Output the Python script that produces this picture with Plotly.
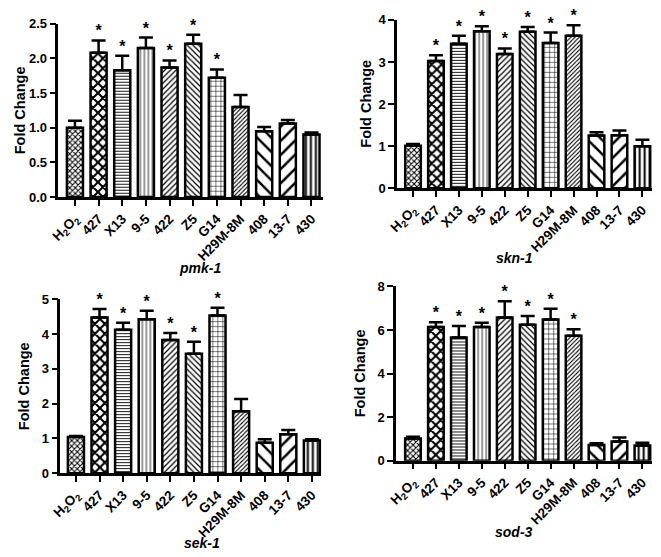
import plotly.graph_objects as go

categories = ["H2O2", "427", "X13", "9-5", "422", "Z5", "G14", "H29M-8M", "408", "13-7", "430"]
tick_labels = ["H<sub>2</sub>O<sub>2</sub>", "427", "X13", "9-5", "422", "Z5", "G14", "H29M-8M", "408", "13-7", "430"]

pmk1_vals = [1.00, 2.08, 1.83, 2.15, 1.87, 2.21, 1.72, 1.30, 0.95, 1.06, 0.90]
pmk1_err = [0.10, 0.18, 0.21, 0.15, 0.10, 0.13, 0.12, 0.17, 0.06, 0.05, 0.03]
pmk1_sig = [0, 1, 1, 1, 1, 1, 1, 0, 0, 0, 0]

skn1_vals = [1.01, 3.02, 3.43, 3.73, 3.19, 3.72, 3.45, 3.62, 1.25, 1.26, 1.00]
skn1_err = [0.04, 0.14, 0.19, 0.12, 0.13, 0.11, 0.25, 0.25, 0.08, 0.11, 0.15]
skn1_sig = [0, 1, 1, 1, 1, 1, 1, 1, 0, 0, 0]

sek1_vals = [1.04, 4.47, 4.12, 4.42, 3.83, 3.43, 4.53, 1.78, 0.88, 1.12, 0.94]
sek1_err = [0.03, 0.25, 0.20, 0.25, 0.20, 0.35, 0.22, 0.35, 0.10, 0.12, 0.04]
sek1_sig = [0, 1, 1, 1, 1, 1, 1, 0, 0, 0, 0]

sod3_vals = [1.02, 6.14, 5.66, 6.14, 6.57, 6.24, 6.48, 5.74, 0.72, 0.88, 0.70]
sod3_err = [0.08, 0.22, 0.52, 0.20, 0.75, 0.40, 0.50, 0.30, 0.08, 0.18, 0.12]
sod3_sig = [0, 1, 1, 1, 1, 1, 1, 1, 0, 0, 0]

genes = ["pmk-1", "skn-1", "sek-1", "sod-3"]

shapes = ["x", "x", "-", "|", "/", "\\", "+", "/", "\\", "/", "|"]
psizes = [4, 7, 3, 4, 4, 4, 5, 3, 10, 10, 5]
psolid = [0.45, 0.5, 0.3, 0.2, 0.3, 0.3, 0.2, 0.35, 0.25, 0.25, 0.4]

W, H = 661, 557
OX, OY = 8, 8  # page body margin offset
# panel geometry in window pixels
panels = [
    dict(vals=pmk1_vals, err=pmk1_err, sig=pmk1_sig, ymax=2.5, dtick=0.5, fmt=".1f",
         x0=49, x1=318, yt=17, yb=195, xr=[-0.7, 10.5], tx=193, ty=268, yx=10),
    dict(vals=skn1_vals, err=skn1_err, sig=skn1_sig, ymax=4, dtick=1, fmt="d",
         x0=393, x1=652, yt=13, yb=186, xr=[-0.69, 10.43], tx=512, ty=258, yx=361),
    dict(vals=sek1_vals, err=sek1_err, sig=sek1_sig, ymax=5, dtick=1, fmt="d",
         x0=51, x1=316, yt=300, yb=479, xr=[-0.66, 10.4], tx=195, ty=551, yx=14),
    dict(vals=sod3_vals, err=sod3_err, sig=sod3_sig, ymax=8, dtick=2, fmt="d",
         x0=392, x1=652, yt=287, yb=466, xr=[-0.73, 10.43], tx=512, ty=539, yx=355),
]


def px(x):
    return (x - OX) / W


def py(y):
    return (H - (y - OY)) / H


fig = go.Figure()
font_fam = "Liberation Sans, Arial, sans-serif"
xs = list(range(len(categories)))

for i, p in enumerate(panels):
    n = i + 1
    xa = "x" if n == 1 else f"x{n}"
    ya = "y" if n == 1 else f"y{n}"
    fig.add_trace(go.Bar(
        x=xs, y=p["vals"], xaxis=xa, yaxis=ya, width=0.68,
        marker=dict(color="white", line=dict(color="black", width=2.5),
                    pattern=dict(shape=shapes, size=psizes, solidity=psolid,
                                 fgcolor="black", bgcolor="white", fillmode="replace")),
        error_y=dict(type="data", symmetric=False, array=p["err"],
                     arrayminus=[0] * len(xs), color="black", thickness=2.5, width=7),
        showlegend=False, hoverinfo="skip"))
    sx = [x for x, s in zip(xs, p["sig"]) if s]
    sy = [v + e for v, e, s in zip(p["vals"], p["err"], p["sig"]) if s]
    fig.add_trace(go.Scatter(
        x=sx, y=sy, xaxis=xa, yaxis=ya, mode="text", text=["*"] * len(sx),
        textposition="top center", cliponaxis=False,
        textfont=dict(size=16, family=font_fam, color="black", weight="bold"),
        showlegend=False, hoverinfo="skip"))
    key = "" if n == 1 else str(n)
    fig.layout["xaxis" + key] = dict(
        domain=[px(p["x0"]), px(p["x1"])], range=p["xr"], anchor=ya,
        tickvals=xs, ticktext=tick_labels, tickangle=-45,
        showline=True, linecolor="black", linewidth=2.5, ticks="outside",
        ticklen=6, tickwidth=2, tickcolor="black", showgrid=False, zeroline=False,
        tickfont=dict(size=13.5, family=font_fam, color="black", weight="bold"))
    fig.layout["yaxis" + key] = dict(
        domain=[py(p["yb"]), py(p["yt"])], range=[0, p["ymax"]],
        anchor=xa, dtick=p["dtick"], tickformat=p["fmt"],
        showline=True, linecolor="black", linewidth=2.5, ticks="outside",
        ticklen=6, tickwidth=2, tickcolor="black", showgrid=False, zeroline=False,
        tickfont=dict(size=13, family=font_fam, color="black", weight="bold"))
    fig.add_annotation(x=px(p["tx"]), y=py(p["ty"]), xref="paper", yref="paper",
                       xanchor="center", yanchor="middle",
                       text=f"<b><i>{genes[i]}</i></b>", showarrow=False,
                       font=dict(size=14, family=font_fam, color="black"))
    fig.add_annotation(x=px(p["yx"]), y=py((p["yt"] + p["yb"]) / 2),
                       xref="paper", yref="paper", textangle=-90,
                       xanchor="center", yanchor="middle",
                       text="<b>Fold Change</b>", showarrow=False,
                       font=dict(size=14.5, family=font_fam, color="black"))

fig.update_layout(width=W, height=H, margin=dict(l=0, r=0, t=0, b=0),
                  paper_bgcolor="white", plot_bgcolor="white")
fig.write_html("out.html")
